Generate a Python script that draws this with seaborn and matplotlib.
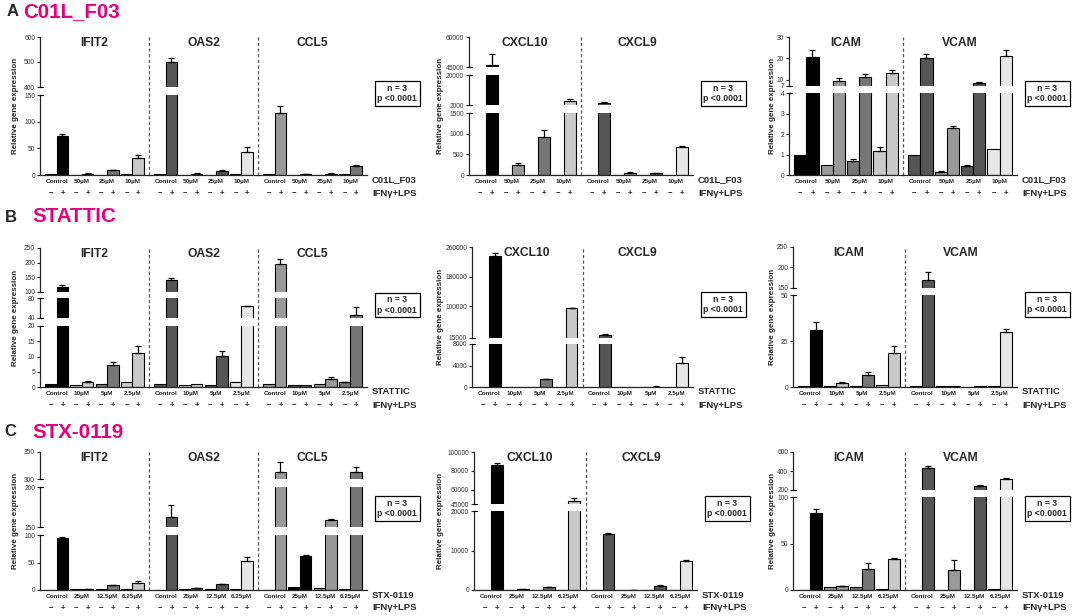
import numpy as np
import pandas as pd
import matplotlib.pyplot as plt
import seaborn as sns
from matplotlib.lines import Line2D

sns.set_style('white')
plt.rcParams['font.family'] = ['Liberation Sans', 'DejaVu Sans']

# ---------------- data ----------------
# bar order inside a gene: Control-, Control+, dose1-, dose1+, dose2-, dose2+, dose3-, dose3+
ifn_levels = ['−', '+']
genes_left = ['IFIT2', 'OAS2', 'CCL5']
genes_mid = ['CXCL10', 'CXCL9']
genes_right = ['ICAM', 'VCAM']

drugs = ['C01L_F03', 'STATTIC', 'STX-0119']
doses_A = ['Control', '50µM', '25µM', '10µM']
doses_B = ['Control', '10µM', '5µM', '2.5µM']
doses_C = ['Control', '25µM', '12.5µM', '6.25µM']

A_mean = {
    'IFIT2': [1, 73, 0.5, 2.5, 0.8, 8.5, 1, 32],
    'OAS2': [1, 500, 0.5, 2.5, 0.8, 7, 1, 44],
    'CCL5': [1, 117, 0.3, 1.2, 0.8, 2.5, 1, 16],
    'CXCL10': [1, 46000, 1, 230, 1, 920, 1, 4600],
    'CXCL9': [1, 3000, 1, 60, 10, 45, 1, 670],
    'ICAM': [1.0, 20.5, 0.5, 9.5, 0.7, 11.2, 1.15, 13.3],
    'VCAM': [1.0, 20.3, 0.15, 2.3, 0.45, 8.3, 1.25, 21.3],
}
A_sem = {
    'IFIT2': [0, 3, 0, 0.5, 0, 1, 0, 5],
    'OAS2': [0, 15, 0, 0.5, 0, 1.5, 0, 8],
    'CCL5': [0, 12, 0, 0.3, 0, 0.5, 0, 3],
    'CXCL10': [0, 5500, 0, 60, 0, 170, 0, 1100],
    'CXCL9': [0, 500, 0, 15, 0, 15, 0, 20],
    'ICAM': [0, 3.5, 0, 1.2, 0.07, 1.3, 0.2, 1.0],
    'VCAM': [0, 1.6, 0.03, 0.08, 0.05, 0.4, 0, 2.5],
}
B_mean = {
    'IFIT2': [1, 117, 0.8, 1.8, 0.9, 7.3, 1.5, 11],
    'OAS2': [1, 140, 0.8, 1.0, 0.8, 10.3, 1.6, 64],
    'CCL5': [1, 195, 0.5, 0.6, 1.1, 2.5, 1.5, 47],
    'CXCL10': [0, 235000, 0, 0, 0, 1400, 0, 95000],
    'CXCL9': [0, 23000, 0, 0, 0, 80, 0, 4400],
    'ICAM': [0.5, 31, 0.8, 2.2, 0.7, 6.5, 1.0, 18.5],
    'VCAM': [0.5, 170, 0.3, 0.5, 0.2, 0.6, 0.5, 30],
}
B_sem = {
    'IFIT2': [0, 8, 0, 0.3, 0, 1, 0, 2.5],
    'OAS2': [0, 9, 0, 0, 0, 1.5, 0, 1],
    'CCL5': [0, 17, 0, 0, 0, 0.7, 0.3, 15],
    'CXCL10': [0, 8000, 0, 0, 0, 150, 0, 2000],
    'CXCL9': [0, 1500, 0, 0, 0, 20, 0, 1200],
    'ICAM': [0, 4.5, 0, 0.5, 0, 1.5, 0, 4],
    'VCAM': [0, 19, 0, 0, 0, 0, 0, 1.5],
}
C_mean = {
    'IFIT2': [0.5, 95, 1.0, 2.0, 1.0, 8.5, 1.0, 13],
    'OAS2': [0.5, 163, 1.0, 3.0, 2.0, 10.5, 1.0, 53],
    'CCL5': [0.5, 313, 5, 62, 3, 159, 1, 313],
    'CXCL10': [0, 86000, 0, 200, 0, 700, 0, 48500],
    'CXCL9': [0, 14200, 0, 100, 0, 1100, 0, 7400],
    'ICAM': [0.5, 83, 3.5, 4.0, 3.5, 23, 1.0, 33],
    'VCAM': [0.5, 430, 0.5, 22, 0.5, 245, 1.0, 318],
}
C_sem = {
    'IFIT2': [0, 2, 0, 0.3, 0, 1, 0, 4],
    'OAS2': [0, 15, 0, 0.3, 0, 1, 0, 7],
    'CCL5': [0, 18, 0, 1, 0, 0.5, 0, 9],
    'CXCL10': [0, 2000, 0, 30, 0, 120, 0, 3000],
    'CXCL9': [0, 300, 0, 20, 0, 200, 0, 200],
    'ICAM': [0, 4, 0, 0.5, 0, 6, 0, 1],
    'VCAM': [0, 25, 0, 10, 0, 12, 0, 5],
}

# ---------------- style ----------------
K, D, G, M, L, V = '#000000', '#555555', '#767676', '#999999', '#c9c9c9', '#e6e6e6'
A_col = {'IFIT2': [K, D, G, L], 'OAS2': [D, D, D, V], 'CCL5': [M, M, M, G],
         'CXCL10': [K, M, G, L], 'CXCL9': [D, M, D, V], 'ICAM': [K, M, G, L], 'VCAM': [D, M, D, V]}
B_col = {'IFIT2': [K, L, G, L], 'OAS2': [D, L, D, V], 'CCL5': [M, D, M, G],
         'CXCL10': [K, M, G, L], 'CXCL9': [D, M, D, V], 'ICAM': [K, L, G, L], 'VCAM': [D, M, D, V]}
C_col = {'IFIT2': [K, D, G, L], 'OAS2': [D, D, D, V], 'CCL5': [M, K, M, G],
         'CXCL10': [K, D, G, L], 'CXCL9': [D, D, D, V], 'ICAM': [K, M, G, L], 'VCAM': [D, M, D, V]}
MAGENTA = '#e5007e'

# panel geometry in pixels: x_left, x_right, segments (ylo, yhi, px_bottom, px_top), yticks per segment
layout_A = [
    (40, 367, [(0, 150, 175, 95), (400, 600, 87, 37)], [[0, 50, 100, 150], [400, 500, 600]]),
    (469, 693, [(0, 1500, 175, 113), (2000, 20000, 105, 75), (45000, 60000, 67, 37)],
     [[0, 500, 1000, 1500], [2000, 20000], [45000, 60000]]),
    (789, 1017, [(0, 4, 175, 93), (7, 30, 86, 37)], [[0, 1, 2, 3, 4], [7, 10, 20, 30]]),
]
layout_B = [
    (40, 367, [(0, 20, 387, 326), (40, 80, 318, 298), (100, 250, 292, 248)],
     [[0, 5, 10, 15, 20], [40, 80], [100, 150, 200, 250]]),
    (472, 693, [(0, 8000, 387, 344), (15000, 260000, 338, 247)],
     [[0, 4000, 8000], [15000, 100000, 180000, 260000]]),
    (793, 1017, [(0, 50, 387, 295), (150, 250, 288, 247)], [[0, 25, 50], [150, 200, 250]]),
]
layout_C = [
    (40, 367, [(0, 100, 590, 535), (150, 200, 527, 487), (300, 350, 479, 452)],
     [[0, 50, 100], [150, 200], [300, 350]]),
    (474, 697, [(0, 20000, 590, 511), (45000, 100000, 504, 452)],
     [[0, 10000, 20000], [45000, 60000, 80000, 100000]]),
    (793, 1017, [(0, 100, 590, 497), (200, 600, 490, 452)], [[0, 50, 100], [200, 400, 600]]),
]
ylabel_x = [16, 441, 772]

W, H = 1075, 616
fig = plt.figure(figsize=(W / 100, H / 100), dpi=100)


def fx(x):
    return x / W


def fy(y):
    return 1 - y / H


def draw_panel(x0, x1, segs, ticks, genes, doses, mean, sem, col, drug, ylx):
    n = len(genes)
    cw = (x1 - x0) / n
    ytop, ybot = segs[-1][3], segs[0][2]
    for gi, gene in enumerate(genes):
        df = pd.DataFrame({'dose': np.repeat(doses, 2),
                           'ifn': ifn_levels * len(doses),
                           'expr': mean[gene]})
        for si, ((lo, hi, pb, pt), tk) in enumerate(zip(segs, ticks)):
            ax = fig.add_axes([fx(x0 + gi * cw), fy(pb), cw / W, (pb - pt) / H])
            ax.set_facecolor('none')
            sns.barplot(data=df, x='dose', y='expr', hue='ifn', order=doses, hue_order=ifn_levels,
                        errorbar=None, width=0.92, legend=False, edgecolor='black',
                        linewidth=0.8, ax=ax)
            bars = sorted(ax.patches, key=lambda p: p.get_x())
            for p, c in zip(bars, np.repeat(col[gene], 2)):
                p.set_facecolor(c)
            xs = np.array([p.get_x() + p.get_width() / 2 for p in bars])
            hs = np.array([p.get_height() for p in bars])
            err = np.array(sem[gene], dtype=float)
            k = err > 0
            ax.errorbar(xs[k], hs[k], yerr=[np.zeros(k.sum()), err[k]], fmt='none',
                        ecolor='black', elinewidth=0.9, capsize=2.5, capthick=0.9)
            ax.set_xlim(-0.66, len(doses) - 0.34)
            ax.set_ylim(lo, hi)
            ax.set(xlabel='', ylabel='')
            for s in ['top', 'right']:
                ax.spines[s].set_visible(False)
            ax.spines['left'].set_visible(gi == 0)
            ax.spines['bottom'].set_visible(si == 0)
            ax.spines['left'].set_linewidth(0.9)
            ax.spines['bottom'].set_linewidth(0.9)
            if gi == 0:
                ax.set_yticks(tk, labels=[str(t) for t in tk])
                ax.tick_params(axis='y', left=True, length=2.5, width=0.8, pad=1,
                               labelsize=4.8, labelcolor='#333333')
            else:
                ax.set_yticks([])
            if si == 0:
                ax.set_xticks(range(len(doses)), labels=doses)
                ax.tick_params(axis='x', bottom=False, length=0, pad=3, labelsize=4.6)
                for t in ax.get_xticklabels():
                    t.set_fontweight('bold')
                for i, x in enumerate(xs):
                    ax.annotate(ifn_levels[i % 2], (x, 0), xycoords=('data', 'axes fraction'),
                                xytext=(0, -13), textcoords='offset points', ha='center',
                                va='center', fontsize=5.5, fontweight='bold')
            else:
                ax.set_xticks([])

    # short caps on the y axis where it is broken
    for (lo, hi, pb, pt), (lo2, hi2, pb2, pt2) in zip(segs[:-1], segs[1:]):
        for yy in (pt, pb2):
            fig.add_artist(Line2D([fx(x0), fx(x0 + 3)], [fy(yy), fy(yy)], color='black', lw=0.8))

    ov = fig.add_axes([fx(x0), fy(ybot), (x1 - x0) / W, (ybot - ytop) / H])
    ov.set_xlim(0, n)
    ov.set_ylim(0, 1)
    ov.axis('off')
    ov.vlines(np.arange(1, n), 0, 1, colors='#555555', linestyles=(0, (2.5, 2)), lw=0.9)
    for gi, gene in enumerate(genes):
        ov.text(gi + 0.5, 1.0, gene, ha='center', va='top', fontsize=8.7, fontweight='bold')

    fig.text(fx(ylx), fy((ytop + ybot) / 2), 'Relative gene expression', rotation=90,
             ha='center', va='center', fontsize=5.8, fontweight='bold')
    fig.text(fx(x1 + 5), fy(ybot + 5), drug, ha='left', va='center', fontsize=6.8, fontweight='bold')
    fig.text(fx(x1 + 5), fy(ybot + 18), 'IFNγ+LPS', ha='left', va='center', fontsize=6.8,
             fontweight='bold')
    fig.text(fx(x1 + 30), fy(ytop + 0.41 * (ybot - ytop)), 'n = 3\np <0.0001', ha='center',
             va='center', multialignment='center', fontsize=6.3, fontweight='bold',
             bbox=dict(boxstyle='square,pad=0.3', fc='white', ec='black', lw=0.9))


rows = [
    ('A', (7, 23, 12), drugs[0], doses_A, A_mean, A_sem, A_col, layout_A),
    ('B', (5, 32, 217), drugs[1], doses_B, B_mean, B_sem, B_col, layout_B),
    ('C', (4, 32, 432), drugs[2], doses_C, C_mean, C_sem, C_col, layout_C),
]
gene_sets = [genes_left, genes_mid, genes_right]

for letter, (lx, tx, ty), drug, doses, mean, sem, col, layout in rows:
    fig.text(fx(lx), fy(ty), letter, ha='left', va='center', fontsize=12, fontweight='bold')
    fig.text(fx(tx), fy(ty), drug, ha='left', va='center', fontsize=14.8, fontweight='bold',
             color=MAGENTA)
    for (x0, x1, segs, ticks), genes, ylx in zip(layout, gene_sets, ylabel_x):
        draw_panel(x0, x1, segs, ticks, genes, doses, mean, sem, col, drug, ylx)

fig.savefig('out.png', dpi=100)
